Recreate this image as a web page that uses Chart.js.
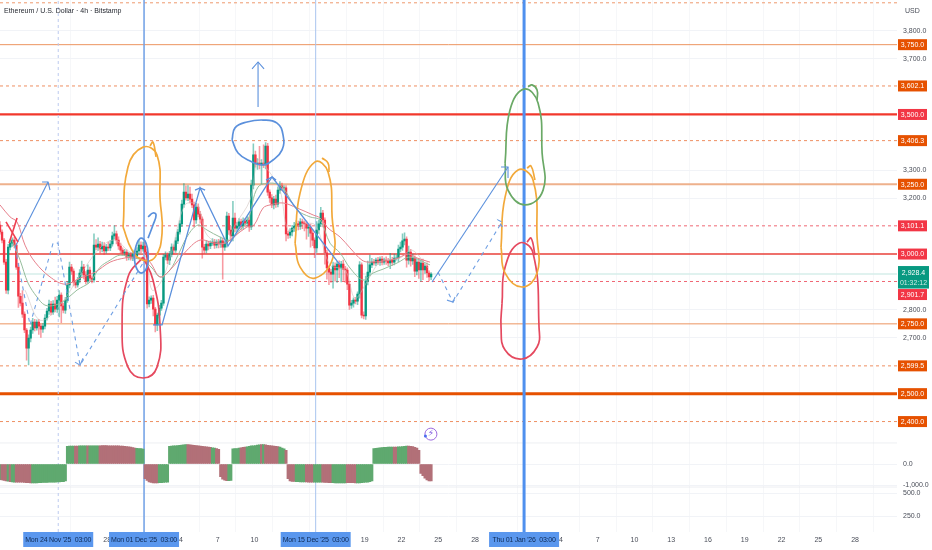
<!DOCTYPE html>
<html>
<head>
<meta charset="utf-8">
<title>ETH/USD 4h</title>
<script src="https://cdn.jsdelivr.net/npm/chart.js@4/dist/chart.umd.min.js"></script>
<style>
    html, body { margin: 0; background: #fff; }
    canvas { display: block; }
</style>
</head>
<body>
<canvas id="ethChart" width="932" height="550"></canvas>
<script>
// x values are days counted from 1 Dec 2025 03:00, one candle every 4 hours
const firstCandleDay = -11.75;
const lastAxisDay = 61.42;
const firstOpen = 3104;

const closes = [
    3079,3050,2971,2871,3025,3039,3050,3032,2953,2849,
    2824,2785,2728,2663,2699,2728,2756,2735,2756,2742,
    2731,2742,2771,2796,2821,2792,2821,2803,2835,2853,
    2814,2799,2835,2889,2953,2939,2900,2889,2907,2932,
    2953,2925,2903,2943,2914,2907,3032,3025,3036,3018,
    3029,3011,3025,3022,3036,3065,3072,3050,3029,3014,
    3004,3007,2989,2996,2986,3000,2993,3011,3032,3018,
    3029,3007,2821,2835,2842,2803,2746,2781,2806,2824,
    2989,2996,2978,3000,3025,3014,3047,3079,3108,3179,
    3222,3201,3215,3197,3176,3122,3168,3143,3125,3025,
    3014,3036,3029,3039,3043,3032,3043,3036,3047,3025,
    3039,3136,3086,3065,3129,3093,3100,3115,3100,3118,
    3111,3122,3097,3247,3355,3323,3326,3319,3326,3319,
    3387,3222,3201,3176,3197,3179,3229,3244,3237,3237,
    3072,3068,3079,3093,3100,3108,3100,3115,3111,3108,
    3093,3097,3075,3050,3022,3086,3108,3147,3122,3004,
    2950,2935,2928,2957,2943,2964,2950,2964,2946,2943,
    2892,2817,2824,2835,2831,2857,2961,2781,2778,2903,
    2935,2961,2971,2968,2978,2971,2982,2971,2978,2975,
    2968,2978,2971,2986,2986,3018,3025,3047,3054,2978,
    3007,2975,2986,2939,2971,2943,2968,2943,2957,2932,
    2918,2928,
];
const upperWicks = [
    12,8,6,10,10,12,8,10,6,14,
    10,45,8,6,12,10,14,10,8,10,
    8,10,12,10,14,10,12,25,14,16,
    8,10,10,12,18,10,8,6,10,12,
    22,10,12,18,10,8,40,20,22,10,
    14,12,10,18,12,14,30,10,12,10,
    8,10,8,10,10,14,10,12,16,12,
    14,16,10,12,8,10,6,8,10,10,
    10,12,8,10,12,8,12,10,12,14,
    30,22,30,25,18,10,14,12,10,8,
    10,12,10,8,12,10,8,10,14,10,
    8,14,10,12,60,18,14,12,10,12,
    10,12,10,18,40,14,16,60,12,65,
    12,10,8,12,10,14,12,16,10,8,
    8,10,12,10,14,12,10,12,10,8,
    10,8,10,12,8,30,14,20,10,8,
    10,8,10,14,12,10,12,10,14,10,
    8,6,10,8,10,8,12,8,12,18,
    40,35,14,10,8,10,8,10,8,12,
    10,25,10,14,10,14,18,25,22,8,
    22,10,14,8,10,12,10,14,8,12,
    8,6,
];
const lowerWicks = [
    8,10,8,12,14,10,12,10,8,40,
    10,12,10,43,60,14,12,10,8,30,
    30,12,10,8,12,10,8,10,12,60,
    60,10,12,8,10,12,14,10,8,10,
    12,14,10,8,12,10,8,10,12,14,
    10,12,8,10,10,8,12,14,12,10,
    8,10,12,10,8,10,12,8,10,14,
    8,10,15,10,12,25,25,20,10,8,
    8,10,12,16,10,14,8,10,8,10,
    12,8,10,14,10,25,12,10,14,40,
    12,10,14,10,8,12,10,14,12,115,
    12,14,16,20,18,14,12,10,14,12,
    14,12,16,10,14,12,20,14,70,10,
    14,12,16,10,14,12,10,12,10,14,
    25,12,10,14,12,16,14,12,20,25,
    40,30,50,20,35,16,12,10,25,40,
    40,45,30,50,40,45,35,50,40,45,
    20,15,12,14,10,12,15,10,10,12,
    14,12,10,8,10,8,12,10,8,12,
    10,20,12,10,8,14,10,12,14,25,
    14,18,12,20,14,30,40,35,12,16,
    14,10,
];

const oscValues = [
    -750,-760,-780,-800,-820,-840,-850,-860,-860,-870,-860,-870,-880,-890,-890,-900,-900,-900,-900,-890,-890,-880,-880,-880,-870,-870,-860,-860,-850,-850,-840,-840,-800,
    840,850,850,850,850,850,860,860,860,860,860,860,870,870,870,870,870,880,880,880,870,870,870,870,860,860,850,850,840,830,820,800,780,760,750,740,730,715,
    -700,-780,-850,-880,-900,-900,-900,-890,-890,-880,-870,-860,
    840,850,860,870,880,890,900,910,920,920,910,900,890,880,870,850,840,830,820,800,790,770,760,740,700,
    -600,-720,-770,-790,-790,-780,
    720,730,740,760,770,790,800,820,840,860,870,880,900,910,920,920,910,890,880,860,850,840,830,800,760,720,650,
    -700,-800,-830,-830,-840,-840,-850,-850,-850,-850,-860,-860,-860,-860,-860,-870,-870,-870,-880,-880,-890,-890,-890,-900,-900,-900,-900,-900,-900,-890,-890,-890,-890,-900,-900,-900,-890,-880,-870,-860,-840,-800,
    730,750,760,770,780,790,790,800,800,810,810,810,820,820,830,840,850,850,840,830,790,760,650,
    -450,-560,-680,-760,-800,-800,
];
// run lengths of the histogram colour, starting with a rising run and then alternating
const oscRiseFallRuns = [1,3,1,1,2,8,21,2,4,1,5,18,4,7,14,12,2,6,6,3,7,1,1,7,3,5,5,4,4,5,7,5,18,2,5,12];

// moving averages
const slowMaDays = [-11.75,-10.93,-10.36,-9.71,-8.89,-7.67,-6.44,-5.22,-4,-2.77,-1.55,-0.73,0.08,0.49,1.31,2.12,3.51,4.57,5.79,6.61,7.42,8.4,8.97,9.71,10.28,11.34,12.48,13.79,14.36,15.01,15.99,16.8,17.78,18.44,20.47,21.54,22.27,23.33];
const slowMaPrices = [3176,3133,3115,3032,2971,2918,2892,2914,2935,2971,2986,2989,2982,2971,2918,2943,3014,3050,3039,3039,3065,3097,3104,3165,3176,3183,3165,3140,3129,3093,3061,3022,2978,2971,2982,3000,2986,2971];
const midMaDays = [-10.77,-10.11,-9.46,-8.73,-8.08,-7.26,-6.44,-5.47,-4.4,-3.59,-2.77,-1.96,-0.9,-0.08,0.65,1.31,2.12,2.77,3.59,4.4,5.14,6.2,7.02,7.83,8.48,9.3,10.52,11.34,12.48,13.54,14.36,15.17,15.99,16.8,17.86,18.68,19.5,20.64,21.7,23.33];
const midMaPrices = [3050,2978,2896,2846,2817,2817,2835,2871,2900,2953,2978,2996,2986,2978,2950,2918,2943,2996,3068,3104,3086,3061,3050,3086,3122,3240,3254,3237,3158,3133,3122,3039,3004,2950,2907,2932,2946,2968,2989,2961];
const fastMaDays = [-9.71,-8.48,-6.85,-5.22,-3.59,-2.37,-1.14,0.08,0.65,1.47,2.28,3.34,4.32,5.14,6.61,7.42,8.65,9.3,10.11,11.09,11.75,12.73,13.95,15.17,16.4,17.21,18.27,19.25,20.88,21.86,23.17];
const fastMaPrices = [2871,2763,2817,2925,3022,3050,3007,2996,2871,2907,3014,3176,3176,3068,3039,3104,3194,3337,3301,3229,3086,3104,3104,2961,2943,2842,2907,2971,2986,3014,2950];

// horizontal levels
const dashedTopLevel = [3900];
const solidOrangeLevels = [3750, 2750];
const dashedOrangeLevels = [3602.1, 3406.3, 2599.5, 2400];
const dashedRedLevels = [3101.1, 2901.7];
const heavyRedLevel = [3500];
const thinRedLevel = [3000];
const tanLevel = [3250];
const heavyOrangeLevel = [2500];
const lastPrice = [2928.4];
const countdownLabel = "01:32:12";

// vertical markers
const markerDays = [-7, 0, 14, 31];
const markerLabels = ["Mon 24 Nov '25  03:00", "Mon 01 Dec '25  03:00", "Mon 15 Dec '25  03:00", "Thu 01 Jan '26  03:00"];

// axes
const priceTicks = [3800, 3700, 3300, 3200, 2800, 2700];
const oscTicks = [0, -1000];
const volumeTicks = [500, 250];
const tickDays = [-3, 3, 6, 9, 12, 15, 18, 21, 24, 27, 34, 37, 40, 43, 46, 49, 52, 55, 58];
const tickLabels = ["28", "4", "7", "10", "13", "16", "19", "22", "25", "28", "4", "7", "10", "13", "16", "19", "22", "25", "28"];
const oscPaneEdges = [1010, -1105];

// hand drawn marks
const xStrokeADays = [-11.26, -10.28];
const xStrokeAPrices = [3115, 3043];
const xStrokeBDays = [-10.36, -11.01];
const xStrokeBPrices = [3129, 3039];

const leftArrowDays = [-10.52, -7.83];
const leftArrowPrices = [3025, 3258];
const leftHeadDays = [-8.32, -7.83, -7.67];
const leftHeadPrices = [3258, 3258, 3229];

const leftDashDays = [-10.52, -9.3, -7.42, -7.02, -5.22, -0.08];
const leftDashPrices = [3025, 2746, 3039, 3039, 2602, 2968];
const leftDashHeadDays = [-5.63, -5.22, -4.98];
const leftDashHeadPrices = [2613, 2602, 2627];

const zigzagDays = [0.73, 1.47, 4.57, 6.85, 10.44, 15.99];
const zigzagPrices = [2746, 2746, 3237, 3029, 3276, 2961];
const zigzagHeadADays = [4.16, 4.57, 4.98];
const zigzagHeadAPrices = [3229, 3237, 3229];
const zigzagHeadBDays = [9.95, 10.44, 10.77];
const zigzagHeadBPrices = [3265, 3276, 3265];

const upArrowDays = [9.3, 9.3];
const upArrowPrices = [3527, 3688];
const upHeadDays = [8.81, 9.3, 9.79];
const upHeadPrices = [3663, 3688, 3663];

const rightArrowDays = [23.49, 29.69];
const rightArrowPrices = [2900, 3312];
const rightHeadDays = [29.12, 29.69, 29.69];
const rightHeadPrices = [3312, 3312, 3272];

const rightDashDays = [23.98, 25.2, 29.2, 28.88, 29.28];
const rightDashPrices = [2935, 2828, 3115, 3122, 3093];
const rightDashHeadDays = [24.71, 25.2, 25.37];
const rightDashHeadPrices = [2835, 2828, 2846];

const topCircleDays = [7.18, 7.42, 8.4, 9.71, 10.85, 11.34, 11.26, 10.52, 9.71, 8.65, 7.67, 7.18];
const topCirclePrices = [3409, 3452, 3473, 3480, 3469, 3426, 3373, 3337, 3319, 3333, 3362, 3409];
const smallCircleDays = [-0.82, -0.57, -0.24, 0.16, 0.33, 0.24, -0.24, -0.65, -0.82];
const smallCirclePrices = [2996, 3039, 3057, 3039, 2996, 2953, 2932, 2953, 2996];
const smallHookDays = [0.33, 0.73, 0.98, 0.73, 0.33];
const smallHookPrices = [3057, 3104, 3140, 3147, 3133];

const orangeLeftDays = [-1.71, -1.31, -0.08, 1.06, 1.31, 1.47, 0.9, -0.08, -0.98, -1.71];
const orangeLeftPrices = [3097, 3312, 3383, 3355, 3194, 3075, 2989, 2978, 3014, 3097];
const orangeLeftHookDays = [0.49, 0.73, 0.98];
const orangeLeftHookPrices = [3387, 3401, 3348];
const redLeftDays = [-0.08, -1.31, -1.79, -1.31, -0.08, 1.06, 1.31, 0.73, -0.08];
const redLeftPrices = [2989, 2918, 2738, 2595, 2556, 2595, 2738, 2907, 2989];
const orangeMidDays = [12.32, 12.73, 13.95, 15.01, 15.34, 15.42, 13.95, 12.73, 12.32];
const orangeMidPrices = [3039, 3219, 3330, 3294, 3133, 2989, 2914, 2953, 3039];
const orangeMidHookDays = [14.52, 15.01, 15.09];
const orangeMidHookPrices = [3344, 3326, 3294];

const greenRightDays = [29.45, 29.85, 31, 32.14, 32.47, 32.55, 31.08, 29.69, 29.45];
const greenRightPrices = [3326, 3516, 3591, 3541, 3362, 3229, 3176, 3229, 3326];
const greenRightHookDays = [31.32, 31.65, 32.06, 32.06];
const greenRightHookPrices = [3599, 3606, 3588, 3552];
const orangeRightDays = [29.12, 29.45, 30.51, 31.73, 32.06, 32.06, 30.83, 29.45, 29.12];
const orangeRightPrices = [3025, 3204, 3301, 3265, 3061, 2932, 2882, 2932, 3025];
const orangeRightHookDays = [31.24, 31.57, 31.89];
const orangeRightHookPrices = [3308, 3315, 3265];
const redRightDays = [29.2, 29.45, 30.59, 31.73, 32.22, 32.06, 30.83, 29.45, 29.12, 29.2];
const redRightPrices = [2824, 2953, 3039, 3004, 2738, 2667, 2624, 2656, 2738, 2824];
const redRightHookDays = [31.24, 31.57, 31.89];
const redRightHookPrices = [3043, 3057, 2996];

const BLUE = "#5b90dc";
const ORANGE_INK = "#f2a93b";
const RED_INK = "#e5495f";
const GREEN_INK = "#6aa966";
const UP = "#089981";
const DOWN = "#f23645";
const LABEL_FAMILY = '"Liberation Sans", sans-serif';
const LABEL_FONT = "7px " + LABEL_FAMILY;

function zip(xs, ys) {
    return xs.map(function (x, i) {
        return { x: x, y: ys[i] };
    });
}

function formatPrice(value) {
    return Number(value).toLocaleString("en-US", {
        minimumFractionDigits: 1,
        maximumFractionDigits: 1,
    });
}

const candleDays = closes.map(function (c, i) {
    return firstCandleDay + i / 6;
});
const opens = closes.map(function (c, i) {
    return i === 0 ? firstOpen : closes[i - 1];
});
const oscRising = [];
oscRiseFallRuns.forEach(function (run, r) {
    for (let i = 0; i < run; i++) oscRising.push(r % 2 === 0);
});

function stroke(days, prices, color, width, extra) {
    return Object.assign(
        {
            type: "line",
            data: zip(days, prices),
            borderColor: color,
            borderWidth: width,
            pointRadius: 0,
            tension: 0,
            order: 1,
            yAxisID: "y",
        },
        extra || {}
    );
}

function loop(days, prices, color) {
    return stroke(days, prices, color, 1.7, { tension: 0.45 });
}

function levelLines(levels, color, width, dash, order) {
    return levels.map(function (level) {
        return stroke([firstCandleDay, lastAxisDay], [level, level], color, width, {
            borderDash: dash || [],
            order: order || 6,
        });
    });
}

const dashed = { borderDash: [4, 4] };

const datasets = [
    // drawings
    stroke(xStrokeADays, xStrokeAPrices, "#ee3f50", 1.6),
    stroke(xStrokeBDays, xStrokeBPrices, "#ee3f50", 1.6),
    stroke(leftArrowDays, leftArrowPrices, BLUE, 1.1),
    stroke(leftHeadDays, leftHeadPrices, BLUE, 1.1),
    stroke(leftDashDays, leftDashPrices, "#6f9fe3", 1.1, dashed),
    stroke(leftDashHeadDays, leftDashHeadPrices, "#6f9fe3", 1.1),
    stroke(zigzagDays, zigzagPrices, BLUE, 1.3),
    stroke(zigzagHeadADays, zigzagHeadAPrices, BLUE, 1.3),
    stroke(zigzagHeadBDays, zigzagHeadBPrices, BLUE, 1.3),
    stroke(upArrowDays, upArrowPrices, BLUE, 1.1),
    stroke(upHeadDays, upHeadPrices, BLUE, 1.1),
    stroke(rightArrowDays, rightArrowPrices, BLUE, 1.1),
    stroke(rightHeadDays, rightHeadPrices, BLUE, 1.1),
    stroke(rightDashDays, rightDashPrices, "#6f9fe3", 1.1, dashed),
    stroke(rightDashHeadDays, rightDashHeadPrices, "#6f9fe3", 1.1),
    loop(topCircleDays, topCirclePrices, BLUE),
    loop(smallCircleDays, smallCirclePrices, BLUE),
    loop(smallHookDays, smallHookPrices, BLUE),
    loop(orangeLeftDays, orangeLeftPrices, ORANGE_INK),
    loop(orangeLeftHookDays, orangeLeftHookPrices, ORANGE_INK),
    loop(redLeftDays, redLeftPrices, RED_INK),
    loop(orangeMidDays, orangeMidPrices, ORANGE_INK),
    loop(orangeMidHookDays, orangeMidHookPrices, ORANGE_INK),
    loop(greenRightDays, greenRightPrices, GREEN_INK),
    loop(greenRightHookDays, greenRightHookPrices, GREEN_INK),
    loop(orangeRightDays, orangeRightPrices, ORANGE_INK),
    loop(orangeRightHookDays, orangeRightHookPrices, ORANGE_INK),
    loop(redRightDays, redRightPrices, RED_INK),
    loop(redRightHookDays, redRightHookPrices, RED_INK),

    // moving averages
    stroke(slowMaDays, slowMaPrices, "#e6808c", 1, { tension: 0.35, order: 2 }),
    stroke(midMaDays, midMaPrices, "#96bd9c", 1, { tension: 0.35, order: 2 }),
    stroke(fastMaDays, fastMaPrices, "rgba(205,190,185,0.7)", 0.8, { tension: 0.35, order: 2 }),

    // candles
    {
        type: "bar",
        data: candleDays.map(function (day, i) {
            return { x: day, y: [opens[i], closes[i]] };
        }),
        backgroundColor: closes.map(function (c, i) {
            return c >= opens[i] ? UP : DOWN;
        }),
        barThickness: 1.7,
        grouped: false,
        order: 3,
        yAxisID: "y",
    },
    {
        type: "bar",
        data: candleDays.map(function (day, i) {
            return {
                x: day,
                y: [
                    Math.min(opens[i], closes[i]) - lowerWicks[i],
                    Math.max(opens[i], closes[i]) + upperWicks[i],
                ],
            };
        }),
        backgroundColor: closes.map(function (c, i) {
            return c >= opens[i] ? "rgba(8,153,129,0.5)" : "rgba(242,54,69,0.5)";
        }),
        barThickness: 0.9,
        grouped: false,
        order: 4,
        yAxisID: "y",
    },

    // oscillator
    {
        type: "bar",
        data: zip(candleDays, oscValues),
        backgroundColor: oscRising.map(function (rising) {
            return rising ? "#5fa96f" : "#b27078";
        }),
        barThickness: 2.3,
        grouped: false,
        order: 3,
        yAxisID: "yOsc",
    },

    // vertical markers, on the hidden axis that spans all the panes
    stroke([markerDays[0], markerDays[0]], [0, 1], "#bccaef", 1, { borderDash: [3, 3], yAxisID: "yFull", order: 5 }),
    stroke([markerDays[1], markerDays[1]], [0, 1], "#6f9fe6", 1.5, { yAxisID: "yFull", order: 5 }),
    stroke([markerDays[2], markerDays[2]], [0, 1], "#a9c5ef", 1, { yAxisID: "yFull", order: 5 }),
    stroke([markerDays[3], markerDays[3]], [0, 1], "#4f90ee", 3, { yAxisID: "yFull", order: 1 }),

    // pane borders
    stroke([firstCandleDay, lastAxisDay], [oscPaneEdges[0], oscPaneEdges[0]], "#e3e5ea", 1, { yAxisID: "yOsc", order: 7 }),
    stroke([firstCandleDay, lastAxisDay], [oscPaneEdges[1], oscPaneEdges[1]], "#e3e5ea", 1, { yAxisID: "yOsc", order: 7 }),
]
    .concat(levelLines(dashedTopLevel, "#ee9a6e", 1, [3, 3]))
    .concat(levelLines(solidOrangeLevels, "#ec9560", 1))
    .concat(levelLines(dashedOrangeLevels, "#ee8f62", 1, [3, 3]))
    .concat(levelLines(dashedRedLevels, "#ef6774", 1, [3, 3]))
    .concat(levelLines(heavyRedLevel, "#f2382c", 2.2))
    .concat(levelLines(thinRedLevel, "#e8403a", 1.4))
    .concat(levelLines(tanLevel, "#eeb18c", 2))
    .concat(levelLines(heavyOrangeLevel, "#e65100", 3))
    .concat(levelLines(lastPrice, "#d6eeea", 1.6, null, 8));

function drawTag(ctx, left, centerY, width, height, color, text) {
    ctx.fillStyle = color;
    ctx.fillRect(left, centerY - height / 2, width, height);
    ctx.fillStyle = "#fff";
    ctx.fillText(text, left + width / 2, centerY + 0.5);
}

const overlayPlugin = {
    id: "tagsOverlay",
    afterDraw: function (chart) {
        const ctx = chart.ctx;
        const price = chart.scales.y;
        const time = chart.scales.x;
        const tagLeft = chart.chartArea.right + 1;

        ctx.save();
        ctx.font = LABEL_FONT;
        ctx.textAlign = "center";
        ctx.textBaseline = "middle";

        // current price tag with the countdown
        const lastY = price.getPixelForValue(lastPrice[0]);
        const lastBottom = lastY + 14.5;

        const orangeTags = solidOrangeLevels.concat(dashedOrangeLevels, heavyOrangeLevel, tanLevel);
        orangeTags.forEach(function (level) {
            drawTag(ctx, tagLeft, price.getPixelForValue(level), 29, 11, "#e65100", formatPrice(level));
        });
        const redTags = dashedRedLevels.concat(heavyRedLevel, thinRedLevel);
        redTags.forEach(function (level) {
            let y = price.getPixelForValue(level);
            if (y > lastY && y < lastBottom) y = lastBottom + 6;
            drawTag(ctx, tagLeft, y, 29, 11, "#f23645", formatPrice(level));
        });

        ctx.fillStyle = "#089981";
        ctx.fillRect(tagLeft, lastY - 8, 31, 22.5);
        ctx.fillStyle = "#fff";
        ctx.fillText(formatPrice(lastPrice[0]), tagLeft + 15.5, lastY - 1);
        ctx.fillStyle = "#c9ebe4";
        ctx.fillText(countdownLabel, tagLeft + 15.5, lastY + 9);

        // blue date tags over the time axis
        ctx.letterSpacing = "-0.2px";
        markerDays.forEach(function (day, i) {
            const x = time.getPixelForValue(day);
            ctx.fillStyle = "#5a97ee";
            ctx.fillRect(x - 35, chart.chartArea.bottom, 70, 15);
            ctx.fillStyle = "#0e2a55";
            ctx.fillText(markerLabels[i], x, chart.chartArea.bottom + 8);
        });
        ctx.letterSpacing = "0px";

        ctx.fillStyle = "#1f232b";
        ctx.textAlign = "left";
        ctx.fillText("Ethereum / U.S. Dollar · 4h · Bitstamp", 4, 11);
        ctx.fillStyle = "#4a4e59";
        ctx.fillText("USD", tagLeft + 7, 11);

        // lightning marker above the oscillator pane
        const markX = time.getPixelForValue(23.4);
        const markY = price.getPixelForValue(2355);
        ctx.strokeStyle = "#9c6ade";
        ctx.lineWidth = 1;
        ctx.beginPath();
        ctx.arc(markX, markY, 6, 0, Math.PI * 2);
        ctx.stroke();
        ctx.fillStyle = "#4a6cf0";
        ctx.beginPath();
        ctx.arc(markX - 5.5, markY + 2, 1.5, 0, Math.PI * 2);
        ctx.fill();
        ctx.fillStyle = "#7e57e0";
        ctx.textAlign = "center";
        ctx.font = '9px "DejaVu Sans"';
        ctx.fillText("⚡", markX, markY);
        ctx.restore();
    },
};

function fixedWidth(scale) {
    scale.width = 35;
    scale.paddingTop = 0;
    scale.paddingBottom = 0;
}

function yAxis(min, max, ticks, weight, stackWeight) {
    return {
        position: "right",
        stack: "panes",
        stackWeight: stackWeight,
        weight: weight,
        min: min,
        max: max,
        afterBuildTicks: function (scale) {
            scale.ticks = ticks.map(function (value) {
                return { value: value };
            });
        },
        afterFit: fixedWidth,
        border: { display: false },
        grid: { color: "#f1f3f7", drawTicks: false, lineWidth: 1 },
        ticks: {
            autoSkip: false,
            padding: 6,
            color: "#4a4e59",
            font: { family: LABEL_FAMILY, size: 7 },
            callback: function (value) {
                return formatPrice(value);
            },
        },
    };
}

new Chart(document.getElementById("ethChart").getContext("2d"), {
    type: "bar",
    data: { datasets: datasets },
    plugins: [overlayPlugin],
    options: {
        responsive: false,
        animation: false,
        events: [],
        layout: { padding: 0 },
        plugins: {
            legend: { display: false },
            tooltip: { enabled: false },
        },
        scales: {
            x: {
                type: "linear",
                min: firstCandleDay,
                max: lastAxisDay,
                offset: false,
                afterBuildTicks: function (scale) {
                    scale.ticks = tickDays.map(function (value) {
                        return { value: value };
                    });
                },
                afterFit: function (scale) {
                    scale.height = 18;
                    scale.paddingLeft = 0;
                    scale.paddingRight = 0;
                },
                border: { display: false },
                grid: { color: "#f6f7f9", drawTicks: false },
                ticks: {
                    autoSkip: false,
                    maxRotation: 0,
                    padding: 4,
                    color: "#4a4e59",
                    font: { family: LABEL_FAMILY, size: 7 },
                    callback: function (value, index) {
                        return tickLabels[index];
                    },
                },
            },
            y: yAxis(2325, 3910, priceTicks, 1, 442.5),
            yOsc: yAxis(-1119, 1024, oscTicks, 2, 45),
            yVol: yAxis(76, 560, volumeTicks, 3, 44.5),
            yFull: {
                display: false,
                position: "right",
                min: 0,
                max: 1,
                afterFit: function (scale) {
                    scale.width = 0;
                    scale.paddingTop = 0;
                    scale.paddingBottom = 0;
                },
            },
        },
    },
});
</script>
</body>
</html>
